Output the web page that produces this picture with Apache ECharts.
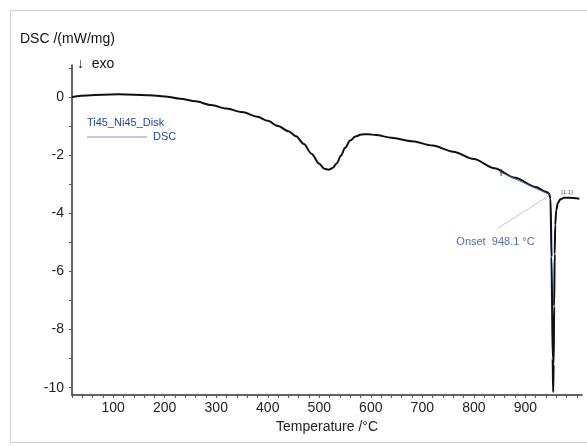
<!DOCTYPE html>
<html>
<head>
<meta charset="utf-8">
<script src="https://cdn.jsdelivr.net/npm/echarts@6/dist/echarts.min.js"></script>
<style>
  html, body { margin: 0; padding: 0; background: #fff; }
  #chart { width: 587px; height: 446px; }
</style>
</head>
<body>
<div id="chart"></div>
<script>
// temperature (°C) and DSC signal (mW/mg)
var temps = [20, 50, 80, 110, 140, 170, 200, 230, 260, 290, 320, 350, 380, 400, 420, 440, 455, 470, 485, 500,
             510, 518, 526, 534, 542, 550, 560, 570, 582, 595, 610, 640, 680, 720, 760, 800, 840, 880, 920, 940,
             946, 949, 951, 953, 954, 955, 956, 957, 958, 960, 963, 968, 975, 985, 1005];
var dsc = [0.0, 0.05, 0.08, 0.09, 0.08, 0.06, 0.02, -0.06, -0.15, -0.28, -0.40, -0.52, -0.68, -0.82, -1.0, -1.18, -1.35, -1.62, -1.95, -2.3,
           -2.47, -2.5, -2.44, -2.28, -2.02, -1.75, -1.5, -1.36, -1.29, -1.28, -1.31, -1.4, -1.52, -1.67, -1.88, -2.13, -2.45, -2.78, -3.1, -3.26,
           -3.32, -3.5, -5.5, -9.0, -10.15, -9.2, -7.2, -5.4, -4.4, -3.9, -3.65, -3.52, -3.47, -3.47, -3.5];

// onset construction (tangents, connector to the label)
var baseTangent = [[850, -2.57], [948.1, -3.37]];
var stepTangent = [[948.1, -3.37], [951.5, -7.4]];
var onsetLink = [[846, -4.52], [948.1, -3.37]];
var tangentMarks = [[853, -2.6], [951.5, -7.45]];
var onsetText = 'Onset  948.1 °C';
var peakTag = [[981, -3.28]];

var xLabels = [100, 200, 300, 400, 500, 600, 700, 800, 900];
var yLabels = [-10, -8, -6, -4, -2, 0];
var xTicks = [];
for (var t = 20; t <= 1000; t += 20) xTicks.push(t);
var yTicks = [-10, -9, -8, -7, -6, -5, -4, -3, -2, -1, 0, 1];

var font = '"Liberation Sans", Arial, sans-serif';
var chart = echarts.init(document.getElementById('chart'));

var option = {
  backgroundColor: '#fff',
  animation: false,
  textStyle: { fontFamily: font },
  grid: { left: 72, right: 5, top: 65, bottom: 51 },
  xAxis: {
    type: 'value',
    min: 20,
    max: 1010,
    name: 'Temperature /°C',
    nameLocation: 'middle',
    nameGap: 21,
    nameTextStyle: { color: '#222', fontSize: 14, fontFamily: font },
    axisLine: { onZero: false, lineStyle: { color: '#333', width: 1.5 } },
    axisTick: { length: 3, lineStyle: { color: '#555' }, customValues: xTicks },
    axisLabel: { color: '#222', fontSize: 14, margin: 6, customValues: xLabels, fontFamily: font },
    splitLine: { show: false }
  },
  yAxis: {
    type: 'value',
    min: -10.25,
    max: 1.1,
    axisLine: { show: true, onZero: false, lineStyle: { color: '#333', width: 1.5 } },
    axisTick: { show: true, length: 3, lineStyle: { color: '#555' }, customValues: yTicks },
    axisLabel: { color: '#222', fontSize: 14, margin: 8, customValues: yLabels, fontFamily: font },
    splitLine: { show: false }
  },
  series: [
    {
      type: 'line',
      data: temps.map(function (t, i) { return [t, dsc[i]]; }),
      symbol: 'none',
      smooth: 0.3,
      smoothMonotone: 'x',
      lineStyle: { color: '#111', width: 2 },
      z: 3
    },
    {
      type: 'line',
      data: baseTangent,
      symbol: 'none',
      lineStyle: { color: '#3a64b8', width: 1 },
      z: 4
    },
    {
      type: 'line',
      data: stepTangent,
      symbol: 'none',
      lineStyle: { color: '#8fb0e8', width: 1.5 },
      z: 2
    },
    {
      type: 'line',
      data: onsetLink,
      symbol: 'none',
      lineStyle: { color: '#b8b8b8', width: 0.8 },
      z: 2
    },
    {
      type: 'scatter',
      data: [onsetLink[0]],
      symbol: 'circle',
      symbolSize: 1,
      itemStyle: { color: 'rgba(0,0,0,0)' },
      label: { show: true, formatter: onsetText, position: 'bottom', distance: 2, offset: [-2, 6],
        color: '#22479a', fontSize: 11, fontFamily: font },
      z: 5
    },
    {
      type: 'scatter',
      data: tangentMarks,
      symbol: 'rect',
      symbolSize: [1.2, 7],
      itemStyle: { color: '#334' },
      z: 5
    },
    {
      type: 'scatter',
      data: peakTag,
      symbol: 'circle',
      symbolSize: 1,
      itemStyle: { color: 'rgba(0,0,0,0)' },
      label: { show: true, formatter: '[1.1]', position: 'inside', color: '#333', fontSize: 6, fontFamily: font },
      z: 5
    }
  ],
  graphic: [
    { type: 'rect', shape: { x: 10.5, y: 10.5, width: 600, height: 432 }, style: { fill: 'none', stroke: '#cfcfcf', lineWidth: 1 }, z: -10 },
    { type: 'text', left: 20, top: 32, style: { text: 'DSC /(mW/mg)', fill: '#111', font: '14px ' + font } },
    { type: 'text', left: 77, top: 57, style: { text: '↓  exo', fill: '#111', font: '14px ' + font } },
    { type: 'text', left: 87, top: 117, style: { text: 'Ti45_Ni45_Disk', fill: '#22479a', font: '11px ' + font } },
    { type: 'line', shape: { x1: 87, y1: 137, x2: 147, y2: 137 }, style: { stroke: '#7f95c4', lineWidth: 1 } },
    { type: 'text', left: 153, top: 131, style: { text: 'DSC', fill: '#22479a', font: '11px ' + font } }
  ]
};

chart.setOption(option);
</script>
</body>
</html>
